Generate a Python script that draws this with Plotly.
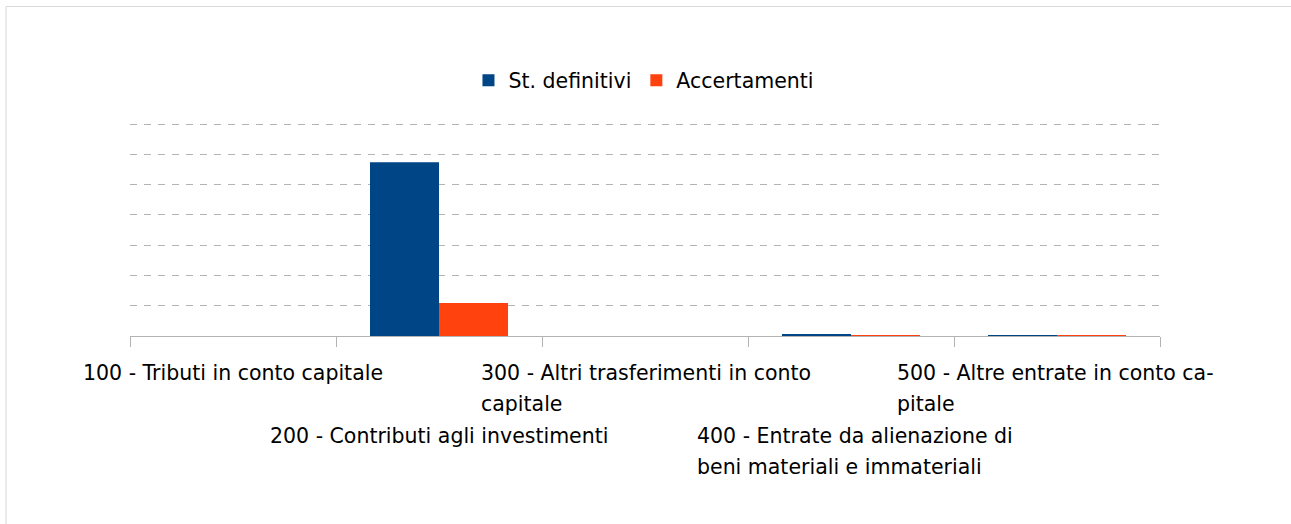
import plotly.graph_objects as go

# categories (Titoli entrate in conto capitale)
categories = ["Titolo 100", "Titolo 200", "Titolo 300", "Titolo 400", "Titolo 500"]
label_lines = [
    ["100 - Tributi in conto capitale"],
    ["200 - Contributi agli investimenti"],
    ["300 - Altri trasferimenti in conto", "capitale"],
    ["400 - Entrate da alienazione di", "beni materiali e immateriali"],
    ["500 - Altre entrate in conto ca-", "pitale"],
]

# values (euro), gridline every 500.000
st_definitivi = [0, 2870000, 0, 30000, 12000]
accertamenti = [0, 545000, 0, 15000, 12000]

BLUE = "#004586"
ORANGE = "#ff420e"
GRID = "#b3b3b3"
FONT = "DejaVu Sans"
FSIZE = 20.5

fig = go.Figure()
fig.add_trace(go.Bar(x=categories, y=st_definitivi, name="St. definitivi",
                     marker=dict(color=BLUE, line=dict(width=0))))
fig.add_trace(go.Bar(x=categories, y=accertamenti, name="Accertamenti",
                     marker=dict(color=ORANGE, line=dict(width=0))))

# staggered category labels under the axis
line_h = 31.3
left_offset = {2: -166, 3: -156, 4: -162}
for i, lines in enumerate(label_lines):
    row0 = 0 if i % 2 == 0 else 2
    for j, txt in enumerate(lines):
        shift = -(37 + (row0 + j) * line_h)
        if len(lines) > 1:
            fig.add_annotation(x=i, y=0, xref="x", yref="paper",
                               text=txt, showarrow=False, xanchor="left",
                               yanchor="middle", xshift=left_offset[i], yshift=shift,
                               font=dict(family=FONT, size=FSIZE, color="#000000"))
        else:
            fig.add_annotation(x=i, y=0, xref="x", yref="paper",
                               text=txt, showarrow=False, xanchor="center",
                               yanchor="middle", yshift=shift,
                               font=dict(family=FONT, size=FSIZE, color="#000000"))

# light frame round the chart
fig.add_shape(type="rect", xref="paper", yref="paper",
              x0=-0.1204, x1=1.5, y0=-1.5, y1=1.547,
              line=dict(color="#d9d9d9", width=1), fillcolor="rgba(0,0,0,0)", layer="below")

fig.update_layout(
    width=1291, height=524,
    margin=dict(l=130, r=131, t=123, b=188, autoexpand=False),
    paper_bgcolor="white", plot_bgcolor="white",
    barmode="group", bargap=0.33, bargroupgap=0,
    font=dict(family=FONT, size=FSIZE, color="#000000"),
    showlegend=True,
    legend=dict(orientation="h", x=0.499, xanchor="center", y=1.2, yanchor="middle",
                font=dict(family=FONT, size=FSIZE), itemwidth=30, traceorder="normal"),
    xaxis=dict(type="category", showgrid=False, showline=True, linecolor=GRID, linewidth=1,
               ticks="outside", tickson="boundaries", ticklen=10, tickcolor=GRID,
               showticklabels=False, zeroline=False, range=[-0.5, 4.5]),
    yaxis=dict(range=[0, 3516600], tick0=0, dtick=500000, showgrid=True, gridcolor=GRID,
               griddash="7px,7px", gridwidth=1, showticklabels=False, zeroline=False,
               showline=False, ticks=""),
)

fig.write_html("out.html", config={"displayModeBar": False},
               post_script="document.body.style.margin='0';")
